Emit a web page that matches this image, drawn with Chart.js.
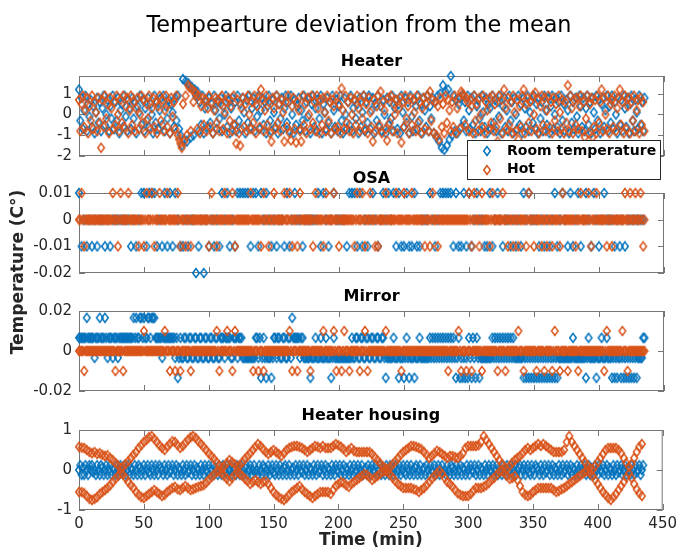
<!DOCTYPE html>
<html>
<head>
<meta charset="utf-8">
<script src="https://cdn.jsdelivr.net/npm/chart.js@4.4.1/dist/chart.umd.min.js"></script>
<style>
  html, body { margin: 0; padding: 0; background: #fff; }
  #wrap { position: relative; width: 682px; height: 549px; }
  #wrap canvas { position: absolute; left: 0; top: 0; width: 682px; height: 549px; }
</style>
</head>
<body>
<div id="wrap">
  <canvas id="housing" width="682" height="549"></canvas>
  <canvas id="mirror" width="682" height="549"></canvas>
  <canvas id="osa" width="682" height="549"></canvas>
  <canvas id="heater" width="682" height="549"></canvas>
</div>
<script>
// --- texts and ticks ---
const mainTitle = 'Tempearture deviation from the mean';
const yAxisLabel = 'Temperature (C°)';
const xAxisLabel = 'Time (min)';
const legendLabels = ['Room temperature', 'Hot'];
const xTicks = [0, 50, 100, 150, 200, 250, 300, 350, 400, 450];
const xTickLabels = ['0', '50', '100', '150', '200', '250', '300', '350', '400', '450'];

// sampling interval of the arrays below (minutes)
const fineStep = 1;
const coarseStep = 2;

// --- Heater (1 sample / min) ---
const heaterRoom = [
  1.2,-.3,.8,-.7,.2,.9,-.8,.5,-.1,.7,-.6,.4,-.9,.1,.8,-.4,.6,-.8,.3,.9,
  -.5,0,.7,-.8,.4,-.2,.9,-.7,.6,-.3,.8,-.9,.2,.5,-.6,.9,-.1,-.8,.7,.3,
  -.7,.8,-.2,.6,-.9,.4,.1,.9,-.5,.7,-.8,.3,-.3,.8,-.6,.5,0,-.9,.9,-.4,
  .6,-.7,.2,.8,-.5,.9,-.8,.4,-.2,.7,-.9,.5,.1,-.6,.8,-.3,.9,-.7,-1.0,-1.5,
  1.7,-1.2,1.6,-1.3,1.5,1.4,-1.1,1.3,-1.0,1.2,.9,1.1,-.8,.6,-.5,.9,-.9,.3,.7,-.6,
  .8,-.4,.5,-.9,.9,.2,-.7,.6,-.2,.8,-.8,.4,0,.9,-.6,.7,-.9,.3,.8,-.5,
  .6,-.8,.9,-.3,.5,-.7,.8,.1,-.9,.7,-.4,.9,-.6,.3,.8,-.8,.5,-.1,.9,-.7,
  .2,.8,-.5,.6,-.9,.4,.9,-.3,-.8,.7,.1,-.6,.9,-.9,.5,-.2,.8,-.7,.3,.9,
  -.4,.6,-.8,.9,0,-.9,.7,-.5,.4,.8,-.7,.2,-.3,.9,-.8,.6,-.1,.8,-.9,.5,
  .9,-.6,.3,-.8,.7,-.2,.9,-.9,.5,.1,-.7,.8,-.4,.6,-.9,.9,.2,-.6,.7,-.8,
  .4,.9,-.3,-.9,.8,0,-.7,.6,-.5,.9,-.8,.3,.7,-.2,.5,-.9,.8,-.6,.1,.9,
  -.8,.6,-.4,.9,-.7,.2,.8,-.9,.5,-.3,.9,-.6,.4,-.8,.7,0,-.9,.8,-.5,.6,
  -.2,.9,-.8,.3,.7,-.7,.5,-.9,.9,.1,-.6,.8,-.4,.6,-.9,.9,-.1,-.8,.7,.4,
  -.7,.9,-.3,.5,-.9,.8,.2,-.6,.9,-.8,.4,-.2,.8,-.9,.6,-1.1,.9,-1.3,1.0,-1.6,
  1.4,-1.7,1.1,-1.5,1.2,-1.2,1.85,-1.0,.9,-.8,.7,-.9,.5,.8,-.6,.9,-.3,.6,-.8,.9,
  .2,-.7,.8,-.5,.9,-.9,.4,.7,-.2,-.8,.9,.1,-.6,.8,-.9,.5,.3,-.7,.9,-.4,
  .7,-.8,.6,-.1,.9,-.9,.4,.8,-.6,.2,-.8,.9,-.3,.6,-.9,.8,0,-.7,.9,-.5,
  .5,-.9,.8,.3,-.6,.9,-.8,.1,.7,-.4,.9,-.7,.5,-.9,.8,-.2,.6,-.8,.9,.2,
  -.5,.8,-.9,.4,.9,-.7,0,.8,-.6,.6,-.9,.9,-.3,.5,-.8,.7,.2,-.9,.9,-.4,
  .6,-.7,.8,-.1,-.9,.9,.4,-.6,.8,-.8,.3,.9,-.5,.6,-.9,.8,.1,-.7,.9,-.3,
  .7,-.9,.5,.8,-.6,.2,.9,-.8,.4,-.4,.9,-.7,.6,0,-.9,.8,-.5,.7,-.8,.9,
  .3,-.6,.8,-.9,.5,.9,-.3,-.8,.7,.1,-.7,.9,-.5,.6,-.8,.8
];
const heaterHot = [
  .7,-.8,.5,.9,-.6,.2,.8,-.9,.4,-.3,.9,-.7,.6,.1,-.8,.8,-.4,-1.6,.7,-.6,
  .9,-.2,.5,-.9,.8,.3,-.7,.6,-.5,.9,0,-.8,.7,-.4,.9,-.6,.4,.8,-.9,.2,
  .9,-.5,.6,-.8,.3,.8,-.7,0,.9,-.4,.7,-.9,.5,-.2,.9,-.7,.3,.8,-.6,.6,
  -.9,.4,.9,-.3,.7,-.8,.2,.9,-.6,.5,-.9,.8,-.1,.6,-.7,.9,-1.0,-1.2,-1.4,-1.6,
  .5,-1.3,.9,-1.0,1.4,1.3,-.8,1.2,.6,1.1,1.0,-.7,.9,-.9,.4,.8,-.5,.7,-.8,.3,
  .9,-.6,.6,-.9,.2,.8,-.4,.7,-.8,.5,.9,-.7,.1,.6,-.9,.8,-.3,.4,-.8,.9,
  -.5,-1.4,.7,-.9,-1.5,.3,.8,-.6,.5,-.8,.9,0,-.7,.6,-.4,.9,-.9,.4,.8,-.6,
  1.2,.7,-.8,.2,.9,-.5,.6,-.9,-1.3,.8,.3,-.7,.9,-.4,.5,-.8,.7,.1,-1.3,.6,
  -.6,.9,-.9,-1.25,.4,.8,-.7,-1.35,.6,.2,-.8,-1.3,.9,-.5,.5,-.9,.8,0,-.7,.9,
  -.4,.6,-.8,.9,.3,-.9,.7,-.5,.8,.1,-.8,.9,-.3,.6,-.9,.7,.4,-.7,.9,-.6,
  .5,-.9,1.25,.2,-.7,.9,-.4,.6,-.8,.8,0,-.9,.7,-.5,.9,.3,-.8,.6,-.2,.9,
  -.7,.5,-.9,.8,.1,-.6,-1.3,.7,-.8,.4,.9,-.5,1.1,-.9,.6,.2,-.7,-1.25,.8,-.4,
  .9,-.8,.5,0,.7,-.9,.3,.8,-1.35,.6,-.6,.9,-.2,.4,-.9,.8,-.5,.7,.1,-.8,
  .9,-.4,.6,-.9,.3,.8,-.7,.5,.9,-.8,1.1,-.3,.7,-.9,.6,-1.0,.4,-1.2,.8,-.6,
  .5,-.9,.9,-.4,.7,.2,-.8,.6,-.6,.9,-.9,.3,.8,-.7,1.1,1.0,.9,-.5,.8,.6,
  -.8,.7,.4,-.9,.9,-.3,.5,-.8,.8,0,-.6,.9,-.9,.6,.2,-.7,.8,-.4,.9,-.8,
  .5,-.6,-1.3,.9,-.2,.7,-.9,1.2,.3,-.7,.8,-.5,.6,-.9,.9,.1,-.8,.7,-1.2,.4,
  -.6,.9,1.2,-.9,.5,.8,-.4,.6,-.8,.9,0,1.05,-.7,.7,-.9,.4,.9,-.5,.8,-.8,
  .2,.9,-.6,.6,-.9,.8,-.3,.5,-.8,.9,.1,-.7,.7,-.9,.6,-.4,1.4,-.8,.9,.3,
  -.9,.7,-.5,.8,-.7,.4,.9,-.8,.6,-1.1,-.2,.9,-.9,.5,.8,-1.1,-.6,.7,-.9,.9,
  -.4,.6,1.2,-.8,.8,0,-.7,.9,-.9,.5,.7,-.6,.9,-.8,.3,.8,1.2,-.5,.6,-.9,
  .9,-.7,.4,.8,-.9,.6,-.3,.9,-.8,.2,.7,-.9,.8,-.5,.6,-.8
];
const heaterTicks = [-2, -1, 0, 1];
const heaterTickLabels = ['-2', '-1', '0', '1'];

// --- OSA (room: 1 sample / 2 min, hot: 1 sample / min) ---
const osaRoom = [
  .01,-.01,0,-.01,0,-.01,0,-.01,0,0,-.01,0,-.01,0,0,0,0,0,0,0,
  -.01,0,-.01,0,.01,.01,-.01,.01,.01,.01,-.01,0,-.01,.01,-.01,.01,-.01,.01,0,-.01,
  -.01,0,-.01,0,0,-.02,-.01,0,-.02,0,-.01,0,-.01,0,-.01,.01,0,.01,-.01,0,
  -.01,.01,.01,.01,.01,.01,-.01,.01,.01,-.01,.01,0,.01,0,-.01,0,-.01,0,0,-.01,
  .01,-.01,0,.01,0,0,-.01,0,0,0,0,0,.01,-.01,.01,0,-.01,0,.01,0,
  0,0,0,-.01,.01,.01,.01,-.01,.01,-.01,0,-.01,0,.01,0,-.01,0,.01,0,.01,
  0,.01,-.01,.01,-.01,-.01,.01,-.01,-.01,.01,-.01,-.01,0,0,0,.01,0,-.01,0,.01,
  .01,.01,.01,.01,-.01,.01,-.01,-.01,.01,-.01,.01,-.01,0,.01,0,0,-.01,-.01,.01,-.01,
  0,.01,0,-.01,0,0,-.01,0,-.01,0,-.01,.01,0,.01,0,0,0,-.01,0,-.01,
  0,-.01,0,.01,-.01,0,.01,0,-.01,.01,-.01,0,.01,-.01,0,.01,0,-.01,.01,0,
  -.01,0,.01,0,0,0,-.01,0,-.01,0,-.01,0,0,0,0,0,0,0
];
const osaHot = [
  0,0,.01,0,-.01,0,0,0,0,0,0,0,0,0,0,0,0,0,0,0,
  0,0,0,0,0,0,.01,0,0,0,-.01,0,.01,0,0,0,0,0,.01,0,
  0,0,0,0,0,0,-.01,0,0,0,-.01,0,.01,0,0,0,.01,0,-.01,0,
  0,0,.01,0,0,0,0,0,.01,0,0,0,0,0,0,0,.01,0,-.01,0,
  0,0,-.01,0,0,0,-.01,0,0,0,0,0,0,0,0,0,0,0,0,0,
  -.01,0,.01,0,0,0,-.01,0,0,0,0,0,.01,0,0,0,0,0,.01,0,
  -.01,0,0,0,0,0,0,0,0,0,0,0,.01,0,0,0,0,0,0,0,
  -.01,0,.01,0,0,0,-.01,0,0,0,.01,0,0,0,0,0,0,0,.01,0,
  0,0,.01,0,-.01,0,0,0,-.01,0,.01,0,0,0,0,0,0,0,0,0,
  -.01,0,.01,0,0,0,0,0,-.01,0,.01,0,0,0,0,0,.01,0,0,0,
  -.01,0,0,0,0,0,0,0,0,0,0,0,-.01,0,.01,0,0,0,.01,0,
  -.01,0,0,0,.01,0,0,0,-.01,0,-.01,0,0,0,0,0,.01,0,0,0,
  0,0,0,0,.01,0,0,0,0,0,.01,0,0,0,0,0,.01,0,0,0,
  0,0,0,0,0,0,-.01,0,0,0,-.01,0,.01,0,0,0,-.01,0,0,0,
  0,0,0,0,0,0,0,0,0,0,0,0,0,0,0,0,0,0,0,0,
  .01,0,-.01,0,.01,0,0,0,-.01,0,.01,0,0,0,0,0,-.01,0,.01,0,
  0,0,0,0,0,0,.01,0,0,0,-.01,0,0,0,-.01,0,0,0,-.01,0,
  0,0,0,0,-.01,0,.01,0,0,0,-.01,0,0,0,0,0,-.01,0,0,0,
  -.01,0,0,0,-.01,0,0,0,0,0,-.01,0,.01,0,0,0,0,0,0,0,
  0,0,-.01,0,0,0,.01,0,0,0,0,0,.01,0,-.01,0,0,0,.01,0,
  0,0,0,0,0,0,-.01,0,0,0,-.01,0,0,0,0,0,0,0,0,0,
  .01,0,0,0,.01,0,0,0,.01,0,0,0,.01,0,-.01,0
];
const osaTicks = [-0.02, -0.01, 0, 0.01];
const osaTickLabels = ['-0.02', '-0.01', '0', '0.01'];

// --- Mirror (1 sample / min) ---
const mirrorRoom = [
  .0066,.0066,.0066,.0066,.0066,.0066,.0166,.0066,.0066,.0066,.0066,.0066,-.0034,.0066,.0066,.0066,.0166,.0066,.0066,.0066,
  .0166,.0066,-.0034,.0066,.0066,.0066,-.0034,.0066,.0066,.0066,-.0034,.0066,.0066,.0066,.0066,.0066,.0066,.0066,.0066,.0066,
  .0066,.0066,.0166,.0066,.0166,.0066,.0066,.0166,.0166,.0066,.0166,.0066,.0066,.0166,.0166,.0066,.0166,.0166,.0166,.0066,
  .0066,.0066,.0066,.0066,-.0034,.0066,.0066,.0066,.0066,.0066,.0066,.0066,.0066,.0066,-.0034,.0066,-.0134,-.0034,.0066,-.0034,
  -.0034,.0066,.0066,-.0034,-.0034,.0066,.0066,-.0034,-.0034,.0066,.0066,-.0034,-.0034,.0066,.0066,-.0034,-.0034,.0066,.0066,-.0034,
  -.0034,.0066,.0066,-.0034,-.0034,.0066,.0066,-.0034,-.0034,.0066,.0066,.0066,-.0034,.0066,.0066,.0066,.0066,-.0034,-.0034,.0066,
  .0066,.0066,-.0034,.0066,.0066,.0066,-.0034,-.0034,-.0034,-.0034,-.0034,-.0034,-.0034,-.0034,-.0034,-.0034,.0066,.0066,-.0034,.0066,
  -.0134,-.0034,.0066,-.0034,-.0134,-.0034,-.0034,-.0034,-.0134,-.0034,.0066,.0066,-.0034,.0066,.0066,-.0034,-.0034,.0066,.0066,-.0034,
  -.0034,.0066,.0066,-.0034,.0166,.0066,.0066,.0066,.0066,.0066,-.0034,.0066,.0066,-.0034,-.0034,-.0034,-.0034,-.0034,-.0134,-.0034,
  -.0034,-.0034,.0066,-.0034,-.0034,-.0034,.0066,-.0034,-.0034,-.0034,.0066,-.0034,-.0034,-.0034,-.0134,-.0034,.0066,-.0034,-.0034,-.0034,
  -.0034,-.0034,-.0034,-.0034,-.0034,-.0034,-.0034,-.0034,-.0034,-.0034,.0066,-.0034,-.0034,.0066,.0066,-.0034,-.0034,.0066,.0066,-.0034,
  -.0034,.0066,.0066,-.0034,-.0034,.0066,.0066,-.0034,-.0034,.0066,.0066,-.0034,-.0034,.0066,.0066,-.0034,-.0134,-.0034,-.0034,-.0034,
  -.0034,-.0034,.0066,-.0034,-.0034,-.0034,-.0134,-.0034,-.0034,-.0034,-.0134,-.0034,.0066,-.0034,-.0134,-.0034,-.0034,-.0034,-.0134,-.0034,
  -.0034,-.0034,.0066,-.0034,-.0034,-.0034,-.0034,-.0034,-.0034,-.0034,.0066,-.0034,.0066,-.0034,.0066,-.0034,.0066,-.0034,.0066,-.0034,
  .0066,-.0034,.0066,-.0034,.0066,-.0034,.0066,-.0034,.0066,-.0034,-.0134,-.0034,.0066,-.0134,-.0034,-.0134,-.0034,-.0134,-.0034,-.0134,
  .0066,-.0034,-.0134,.0066,-.0034,-.0134,.0066,-.0034,-.0134,-.0034,-.0034,-.0034,-.0034,-.0034,-.0034,-.0034,-.0034,-.0034,.0066,-.0034,
  .0066,-.0034,.0066,-.0034,.0066,-.0034,.0066,-.0034,.0066,-.0034,.0066,-.0034,.0066,-.0034,.0066,-.0034,-.0034,-.0034,-.0034,-.0034,
  -.0034,-.0034,-.0134,-.0034,-.0134,-.0034,-.0134,-.0034,-.0134,-.0034,-.0134,-.0034,-.0134,-.0034,-.0134,-.0034,-.0134,-.0034,-.0134,-.0034,
  -.0134,-.0034,-.0134,-.0034,-.0134,-.0034,-.0134,-.0034,-.0134,-.0034,-.0034,-.0034,-.0034,-.0034,-.0034,-.0034,-.0034,-.0034,-.0034,-.0034,
  .0066,-.0034,-.0034,-.0034,-.0034,-.0034,-.0034,-.0034,-.0034,-.0034,-.0134,-.0034,.0066,-.0034,-.0034,-.0034,-.0034,-.0034,-.0134,-.0034,
  -.0034,-.0034,.0066,-.0034,-.0034,-.0034,.0066,-.0034,-.0034,-.0034,-.0134,-.0034,-.0134,-.0034,-.0134,-.0034,-.0034,-.0134,-.0034,-.0134,
  -.0034,-.0134,-.0034,-.0134,-.0034,-.0134,-.0034,-.0134,-.0034,-.0134,-.0034,-.0034,-.0034,-.0034,.0066,.0066
];
const mirrorHot = [
  0,0,0,0,-.01,0,0,0,0,0,0,0,0,0,0,0,0,0,0,0,
  0,0,0,0,0,0,0,0,-.01,0,0,0,0,0,-.01,0,0,0,0,0,
  0,0,0,0,0,0,0,0,0,0,.01,0,0,0,0,0,0,0,0,0,
  0,0,0,0,0,0,.01,0,0,0,-.01,0,0,0,-.01,0,0,0,-.01,0,
  0,0,0,0,0,0,-.01,0,0,0,0,0,0,0,0,0,0,0,0,0,
  0,0,0,0,0,0,.01,0,-.01,0,0,0,0,0,.01,0,0,0,-.01,0,
  .01,0,0,0,0,0,0,0,0,0,0,0,0,0,-.01,0,0,0,-.01,0,
  0,0,-.01,0,0,0,0,0,0,0,0,0,0,0,0,0,0,0,0,0,
  0,0,.01,0,-.01,0,0,0,-.01,0,0,0,0,0,0,0,0,0,-.01,0,
  0,0,0,0,0,0,0,0,.01,0,0,0,0,0,0,0,.01,0,-.01,0,
  0,0,-.01,0,.01,0,0,0,-.01,0,0,0,0,0,0,0,-.01,0,0,0,
  .01,0,-.01,0,0,0,0,0,0,0,0,0,0,0,0,0,.01,0,0,0,
  0,0,0,0,0,0,0,0,-.01,0,0,0,0,0,0,0,0,0,0,0,
  0,0,0,0,0,0,0,0,0,0,0,0,0,0,0,0,0,0,0,0,
  0,0,0,0,-.01,0,0,0,0,0,0,0,.01,0,-.01,0,0,0,-.01,0,
  0,0,-.01,0,0,0,0,0,0,0,-.01,0,0,0,0,0,0,0,0,0,
  0,0,-.01,0,0,0,0,0,-.01,0,0,0,0,0,0,0,0,0,.01,0,
  0,0,-.01,0,0,0,0,0,0,0,0,0,-.01,0,0,0,0,0,-.01,0,
  0,0,0,0,-.01,0,.01,0,0,0,-.01,0,0,0,0,0,-.01,0,0,0,
  0,0,0,0,-.01,0,0,0,0,0,0,0,0,0,0,0,0,0,0,0,
  0,0,0,0,-.01,0,.01,0,0,0,0,0,0,0,0,0,0,0,.01,0,
  0,0,-.01,0,0,0,0,0,0,0,0,0,0,0,0,0
];
const mirrorTicks = [-0.02, 0, 0.02];
const mirrorTickLabels = ['-0.02', '0', '0.02'];

// --- Heater housing (room: 1 sample / min, hot traces: 1 sample / 2 min) ---
const housingRoom = [
  0,.12,-.12,.06,-.12,.12,0,-.12,.12,0,.12,-.06,0,-.12,.12,0,-.12,.12,.06,-.12,
  0,.12,-.12,0,.12,-.12,.06,0,-.12,.12,0,-.12,.12,-.06,0,.12,-.12,0,.12,-.12,
  .06,0,-.12,.12,0,-.12,.12,.06,-.12,0,.12,-.12,0,.12,-.06,-.12,.12,0,-.12,.12,
  0,-.12,.12,.06,0,-.12,.12,0,-.12,.12,-.06,0,.12,-.12,0,.12,-.12,.06,0,-.12,
  .12,0,-.12,.12,-.06,0,.12,-.12,0,.12,-.12,.06,0,-.12,.12,0,-.12,.12,0,-.06,
  .12,-.12,0,.12,-.12,.06,0,-.12,.12,0,-.12,.12,0,-.06,.12,-.12,0,.12,-.12,0,
  .06,-.12,.12,0,-.12,.12,0,-.12,.06,.12,-.12,0,.12,-.12,0,.12,-.06,0,-.12,.12,
  0,-.12,.12,.06,-.12,0,.12,-.12,0,.12,-.06,-.12,.12,0,-.12,.12,0,-.12,.06,.12,
  -.12,0,.12,-.12,0,.06,-.12,.12,0,-.12,.12,0,-.06,.12,-.12,0,.12,-.12,.06,0,
  -.12,.12,0,-.12,.12,-.06,0,.12,-.12,0,.12,-.12,.06,0,-.12,.12,0,-.12,.12,0,
  -.06,.12,-.12,0,.12,-.12,.06,0,-.12,.12,0,-.12,.12,-.06,0,.12,-.12,0,.12,-.12,
  0,.06,-.12,.12,0,-.12,.12,0,-.06,.12,-.12,0,.12,-.12,.06,0,-.12,.12,0,-.12,
  .12,0,-.12,.06,.12,-.12,0,.12,-.12,0,.12,-.06,-.12,.12,0,-.12,.12,0,-.12,.06,
  .12,-.12,0,.12,-.12,0,.06,-.12,.12,0,-.12,.12,0,-.06,.12,-.12,0,.12,-.12,0,
  .12,-.06,0,-.12,.12,0,-.12,.12,.06,-.12,0,.12,-.12,0,.12,-.12,.06,0,-.12,.12,
  0,-.12,.12,0,-.06,.12,-.12,0,.12,-.12,.06,0,-.12,.12,0,-.12,.12,0,-.06,.12,
  -.12,0,.12,-.12,.06,0,-.12,.12,0,-.12,.12,-.06,0,.12,-.12,0,.12,-.12,0,.06,
  .12,-.12,0,.12,-.12,0,.12,-.06,-.12,.12,0,-.12,.12,.06,0,-.12,.12,0,-.12,.12,
  -.06,0,.12,-.12,0,.12,-.12,.06,0,-.12,.12,0,-.12,.12,-.06,0,.12,-.12,0,.12,
  -.12,.06,0,-.12,.12,0,-.12,.12,0,-.06,.12,-.12,0,.12,-.12,.06,0,-.12,.12,0,
  -.12,.12,0,-.06,.12,-.12,0,.12,-.12,.06,0,-.12,.12,0,-.12,.12,-.06,0,.12,-.12,
  0,.12,-.12,.06,0,-.12,.12,0,-.12,.12,-.06,0,.12,-.12,0,.12
];
// the hot housing sensor shows two mirrored traces
const housingHotUpper = [
  .58,.56,.55,.5,.45,.42,.45,.4,.42,.38,.35,.37,.3,.25,.18,.12,.05,.08,.15,.22,
  .3,.38,.45,.55,.62,.7,.75,.82,.85,.78,.7,.62,.55,.5,.58,.65,.72,.7,.62,.55,
  .6,.68,.75,.82,.85,.8,.72,.65,.58,.5,.42,.35,.28,.2,.12,.05,.1,.18,.25,.2,
  .15,.08,.12,.2,.28,.35,.42,.5,.58,.65,.6,.52,.45,.4,.45,.5,.45,.4,.35,.42,
  .5,.55,.58,.6,.6,.58,.55,.5,.45,.5,.55,.6,.58,.55,.6,.55,.55,.55,.6,.65,
  .62,.58,.52,.45,.5,.55,.48,.45,.45,.45,.45,.45,.45,.4,.32,.25,.18,.1,.05,.02,
  .08,.15,.22,.3,.38,.45,.5,.55,.6,.6,.58,.55,.52,.45,.38,.3,.35,.42,.48,.45,
  .4,.35,.3,.35,.35,.32,.3,.35,.42,.55,.6,.6,.6,.6,.62,.7,.85,.75,.65,.55,
  .45,.35,.25,.15,.08,.02,.1,.18,.25,.3,.35,.42,.5,.55,.5,.55,.6,.65,.6,.65,
  .6,.55,.5,.45,.45,.45,.45,.5,.7,.85,.7,.6,.5,.4,.3,.2,.12,.05,.02,.1,
  .2,.3,.4,.5,.55,.55,.55,.55,.5,.42,.3,.18,.08,.15,.3,.45,.58,.65
];
const housingHotLower = [
  -.55,-.55,-.58,-.65,-.72,-.75,-.72,-.68,-.6,-.55,-.5,-.45,-.38,-.3,-.22,-.15,-.08,-.12,-.2,-.3,
  -.38,-.45,-.55,-.62,-.68,-.7,-.65,-.6,-.55,-.5,-.55,-.6,-.65,-.62,-.55,-.5,-.45,-.42,-.48,-.5,
  -.45,-.4,-.45,-.5,-.48,-.45,-.42,-.4,-.38,-.32,-.25,-.18,-.12,-.05,-.02,-.08,-.15,-.22,-.28,-.2,
  -.12,-.05,-.1,-.15,-.22,-.28,-.35,-.3,-.25,-.3,-.35,-.3,-.28,-.35,-.45,-.55,-.62,-.68,-.72,-.75,
  -.7,-.62,-.55,-.5,-.45,-.4,-.48,-.55,-.6,-.65,-.7,-.65,-.6,-.55,-.55,-.55,-.55,-.6,-.5,-.4,
  -.35,-.3,-.32,-.38,-.42,-.35,-.3,-.25,-.2,-.15,-.1,-.12,-.18,-.25,-.2,-.15,-.1,-.05,-.02,-.06,
  -.12,-.2,-.28,-.35,-.4,-.45,-.45,-.45,-.45,-.48,-.5,-.55,-.5,-.45,-.38,-.3,-.22,-.15,-.08,-.02,
  -.1,-.2,-.3,-.35,-.42,-.5,-.58,-.62,-.65,-.65,-.65,-.6,-.52,-.45,-.45,-.45,-.42,-.38,-.32,-.25,
  -.2,-.12,-.05,-.02,-.08,-.15,-.22,-.2,-.15,-.25,-.4,-.55,-.62,-.65,-.62,-.55,-.5,-.45,-.45,-.45,
  -.45,-.45,-.45,-.5,-.55,-.52,-.48,-.45,-.4,-.35,-.3,-.25,-.2,-.15,-.1,-.05,-.02,-.08,-.15,-.25,
  -.35,-.45,-.55,-.62,-.7,-.75,-.68,-.6,-.5,-.4,-.3,-.18,-.08,-.2,-.35,-.48,-.58,-.65
];
const housingTicks = [-1, 0, 1];
const housingTickLabels = ['-1', '0', '1'];

// --- styling ---
const blue = '#0072BD';
const orange = '#D95319';
const fontFam = '"DejaVu Sans", sans-serif';
Chart.defaults.font.family = fontFam;

// open diamond marker, a little taller than wide like the original
function diamondMarker(color) {
  const c = document.createElement('canvas');
  c.width = 10;
  c.height = 12;
  const g = c.getContext('2d');
  g.strokeStyle = color;
  g.lineWidth = 1.5;
  g.beginPath();
  g.moveTo(5, 1.6);
  g.lineTo(8.3, 6);
  g.lineTo(5, 10.4);
  g.lineTo(1.7, 6);
  g.closePath();
  g.stroke();
  return c;
}
const blueMark = diamondMarker(blue);
const orangeMark = diamondMarker(orange);

function points(step, values) {
  return values.map((v, i) => ({ x: i * step, y: v }));
}

function markerSet(label, data, color, mark, order) {
  return {
    label: label,
    data: data,
    borderColor: color,
    backgroundColor: color,
    pointStyle: mark,
    pointRadius: 4,
    pointHoverRadius: 4,
    order: order,
    clip: false
  };
}

// box round the axes with inward ticks, like the original
const axesBox = {
  id: 'axesBox',
  beforeDatasetsDraw(chart) {
    const ctx = chart.ctx;
    const a = chart.chartArea;
    const sx = chart.scales.x, sy = chart.scales.y;
    ctx.save();
    ctx.strokeStyle = '#767676';
    ctx.lineWidth = 1;
    ctx.strokeRect(a.left + 0.5, a.top + 0.5, a.width - 1, a.height - 1);
    ctx.beginPath();
    sx.ticks.forEach(t => {
      const px = Math.round(sx.getPixelForValue(t.value)) + 0.5;
      ctx.moveTo(px, a.bottom); ctx.lineTo(px, a.bottom - 6);
      ctx.moveTo(px, a.top); ctx.lineTo(px, a.top + 6);
    });
    sy.ticks.forEach(t => {
      const py = Math.round(sy.getPixelForValue(t.value)) + 0.5;
      ctx.moveTo(a.left, py); ctx.lineTo(a.left + 6, py);
      ctx.moveTo(a.right, py); ctx.lineTo(a.right - 6, py);
    });
    ctx.stroke();
    ctx.restore();
  }
};

// figure title, shared y label and the legend
const figureText = {
  id: 'figureText',
  afterDraw(chart) {
    const ctx = chart.ctx;
    ctx.save();
    ctx.fillStyle = '#000';
    ctx.font = '22.3px ' + fontFam;
    ctx.textAlign = 'center';
    ctx.textBaseline = 'alphabetic';
    ctx.fillText(mainTitle, 359, 32);

    ctx.save();
    ctx.translate(19, 272);
    ctx.rotate(-Math.PI / 2);
    ctx.fillStyle = '#262626';
    ctx.font = 'bold 17px ' + fontFam;
    ctx.textBaseline = 'middle';
    ctx.fillText(yAxisLabel, 0, 0);
    ctx.restore();

    // legend
    ctx.fillStyle = '#fff';
    ctx.fillRect(467, 140, 193, 39);
    ctx.strokeStyle = '#262626';
    ctx.lineWidth = 1;
    ctx.strokeRect(467.5, 140.5, 193, 39);
    const rows = [151, 169.5];
    const marks = [blueMark, orangeMark];
    ctx.font = 'bold 14px ' + fontFam;
    ctx.textAlign = 'left';
    ctx.textBaseline = 'middle';
    rows.forEach((y, i) => {
      ctx.drawImage(marks[i], 487 - 5, Math.round(y) - 6);
      ctx.fillStyle = '#000';
      ctx.fillText(legendLabels[i], 507, y);
    });
    ctx.restore();
  }
};

function panel(id, title, datasets, yMin, yMax, yTicks, yLabels, plotTop, plotBottom, showX, extra) {
  return new Chart(document.getElementById(id), {
    type: 'scatter',
    data: { datasets: datasets },
    options: {
      responsive: false,
      animation: false,
      events: [],
      layout: { padding: { top: plotTop - 24, bottom: showX ? 0 : 549 - plotBottom, left: 0, right: 18 } },
      plugins: {
        legend: { display: false },
        tooltip: { enabled: false },
        title: {
          display: true,
          text: title,
          fullSize: false,
          color: '#000',
          font: { size: 16, weight: 'bold', lineHeight: 1.25 },
          padding: { top: 0, bottom: 4 }
        }
      },
      scales: {
        x: {
          type: 'linear',
          min: 0,
          max: 450,
          grid: { display: false, drawTicks: false },
          border: { display: false },
          ticks: {
            display: showX,
            color: '#262626',
            font: { size: 15 },
            padding: 5,
            maxRotation: 0,
            callback: (v, i) => xTickLabels[i]
          },
          title: {
            display: showX,
            text: xAxisLabel,
            color: '#262626',
            font: { size: 17, weight: 'bold' },
            padding: { top: 0, bottom: -2 }
          },
          afterBuildTicks: s => { s.ticks = xTicks.map(v => ({ value: v })); },
          afterFit: s => { s.height = showX ? 549 - plotBottom : 0; }
        },
        y: {
          min: yMin,
          max: yMax,
          grid: { display: false, drawTicks: false },
          border: { display: false },
          ticks: {
            color: '#262626',
            font: { size: 15 },
            padding: 7,
            callback: (v, i) => yLabels[i]
          },
          afterBuildTicks: s => { s.ticks = yTicks.map(v => ({ value: v })); },
          afterFit: s => { s.width = 79; }
        }
      }
    },
    plugins: extra ? [axesBox, extra] : [axesBox]
  });
}

panel('housing', 'Heater housing', [
  markerSet(legendLabels[0], points(fineStep, housingRoom), blue, blueMark, 2),
  markerSet(legendLabels[1], points(coarseStep, housingHotUpper).concat(points(coarseStep, housingHotLower)), orange, orangeMark, 1)
], -1, 1, housingTicks, housingTickLabels, 430, 510, true);

panel('mirror', 'Mirror', [
  markerSet(legendLabels[0], points(fineStep, mirrorRoom), blue, blueMark, 2),
  markerSet(legendLabels[1], points(fineStep, mirrorHot), orange, orangeMark, 1)
], -0.02, 0.02, mirrorTicks, mirrorTickLabels, 311, 391, false);

panel('osa', 'OSA', [
  markerSet(legendLabels[0], points(coarseStep, osaRoom), blue, blueMark, 2),
  markerSet(legendLabels[1], points(fineStep, osaHot), orange, orangeMark, 1)
], -0.02, 0.01, osaTicks, osaTickLabels, 193, 273, false);

panel('heater', 'Heater', [
  markerSet(legendLabels[0], points(fineStep, heaterRoom), blue, blueMark, 2),
  markerSet(legendLabels[1], points(fineStep, heaterHot), orange, orangeMark, 1)
], -2, 1.85, heaterTicks, heaterTickLabels, 76, 156, false, figureText);
</script>
</body>
</html>
